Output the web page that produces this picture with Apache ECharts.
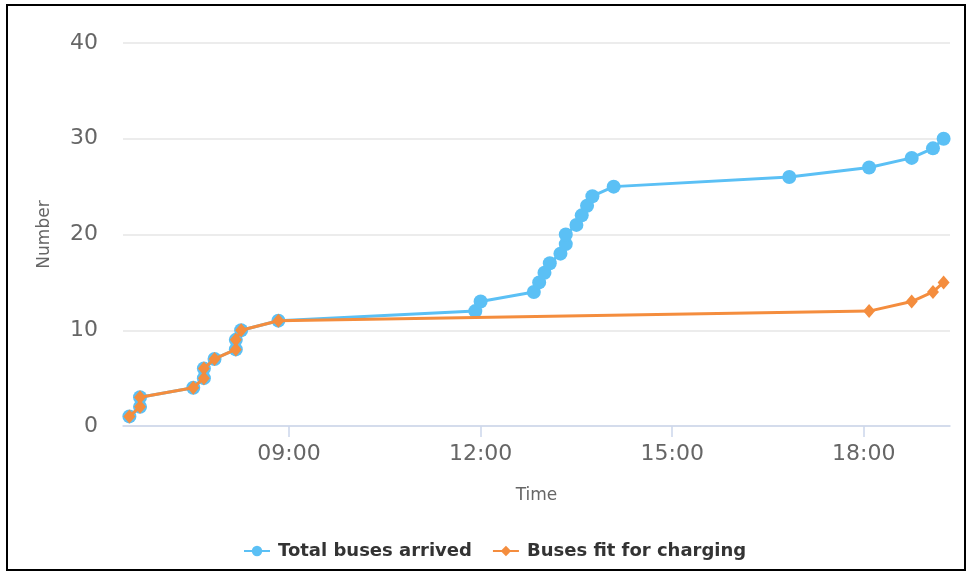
<!DOCTYPE html>
<html>
<head>
<meta charset="utf-8">
<script src="https://cdn.jsdelivr.net/npm/echarts@6/dist/echarts.min.js"></script>
<style>
  html, body { margin: 0; padding: 0; background: #fff; }
  #wrap { position: relative; width: 970px; height: 574px; }
  #chart { position: absolute; left: 0; top: 0; width: 970px; height: 574px; }
  #frame { position: absolute; left: 6px; top: 4px; width: 956px; height: 563px;
           border: 2px solid #000; pointer-events: none; }
</style>
</head>
<body>
<div id="wrap">
  <div id="chart"></div>
  <div id="frame"></div>
</div>
<script>
// Arrival times of buses (HH:MM) and the running totals
const arrivalTimes = ['06:30','06:40','06:40','07:30','07:40','07:40','07:50','08:10','08:10','08:15',
                      '08:50','11:55','12:00','12:50','12:55','13:00','13:05','13:15','13:20','13:20',
                      '13:30','13:35','13:40','13:45','14:05','16:50','18:05','18:45','19:05','19:15'];
const totalArrived = [1,2,3,4,5,6,7,8,9,10,
                      11,12,13,14,15,16,17,18,19,20,
                      21,22,23,24,25,26,27,28,29,30];

// Times when a bus fit for charging arrived, and the running totals
const chargeTimes = ['06:30','06:40','06:40','07:30','07:40','07:40','07:50','08:10','08:10','08:15',
                     '08:50','18:05','18:45','19:05','19:15'];
const fitForCharging = [1,2,3,4,5,6,7,8,9,10,11,12,13,14,15];

// Axis ticks
const xTickLabels = ['09:00','12:00','15:00','18:00'];
const xRange = ['06:24','19:21'];
const yTicks = [0, 10, 20, 30, 40];

const seriesNames = ['Total buses arrived', 'Buses fit for charging'];

function toHours(s) {
  const [h, m] = s.split(':').map(Number);
  return h + m / 60;
}
function fmt(h) {
  const hh = Math.floor(h + 1e-9);
  const mm = Math.round((h - hh) * 60);
  return String(hh).padStart(2, '0') + ':' + String(mm).padStart(2, '0');
}

const blue = '#5bc0f5';
const orange = '#f48d3e';
const font = 'DejaVu Sans';
const xTicks = xTickLabels.map(toHours);

const chart = echarts.init(document.getElementById('chart'), null, { renderer: 'canvas' });
chart.setOption({
  animation: false,
  backgroundColor: '#fff',
  textStyle: { fontFamily: font },
  grid: { left: 123, right: 20, top: 43, bottom: 148 },
  legend: {
    bottom: 9,
    left: 238,
    itemWidth: 26,
    itemHeight: 13,
    itemGap: 20,
    textStyle: { fontFamily: font, fontSize: 18, fontWeight: 'bold', color: '#333', padding: [0, 0, 0, 3] },
    data: seriesNames
  },
  xAxis: {
    type: 'value',
    min: toHours(xRange[0]),
    max: toHours(xRange[1]),
    name: 'Time',
    nameLocation: 'middle',
    nameGap: 61,
    nameTextStyle: { fontFamily: font, fontSize: 17, color: '#666' },
    axisLine: { show: true, lineStyle: { color: '#ccd6eb', width: 1.5 } },
    axisTick: { show: true, customValues: xTicks, length: 11, lineStyle: { color: '#ccd6eb', width: 1.5 } },
    axisLabel: { customValues: xTicks, formatter: v => fmt(v), fontFamily: font, fontSize: 22, color: '#666', margin: 17 },
    splitLine: { show: false }
  },
  yAxis: {
    type: 'value',
    min: yTicks[0],
    max: yTicks[yTicks.length - 1],
    interval: yTicks[1] - yTicks[0],
    name: 'Number',
    nameLocation: 'middle',
    nameRotate: 90,
    nameGap: 70,
    nameTextStyle: { fontFamily: font, fontSize: 17, color: '#666' },
    axisLine: { show: false },
    axisTick: { show: false },
    axisLabel: { fontFamily: font, fontSize: 22, color: '#666', margin: 25, padding: [0, 0, 8, 0] },
    splitLine: { show: true, lineStyle: { color: '#e6e6e6', width: 1.5 } }
  },
  series: [
    {
      name: seriesNames[0],
      type: 'line',
      data: arrivalTimes.map((t, i) => [toHours(t), totalArrived[i]]),
      symbol: 'circle',
      symbolSize: 14,
      showAllSymbol: true,
      lineStyle: { color: blue, width: 3 },
      itemStyle: { color: blue },
      z: 2
    },
    {
      name: seriesNames[1],
      type: 'line',
      data: chargeTimes.map((t, i) => [toHours(t), fitForCharging[i]]),
      symbol: 'diamond',
      symbolSize: [12, 14],
      showAllSymbol: true,
      lineStyle: { color: orange, width: 3 },
      itemStyle: { color: orange },
      z: 3
    }
  ]
});
</script>
</body>
</html>
